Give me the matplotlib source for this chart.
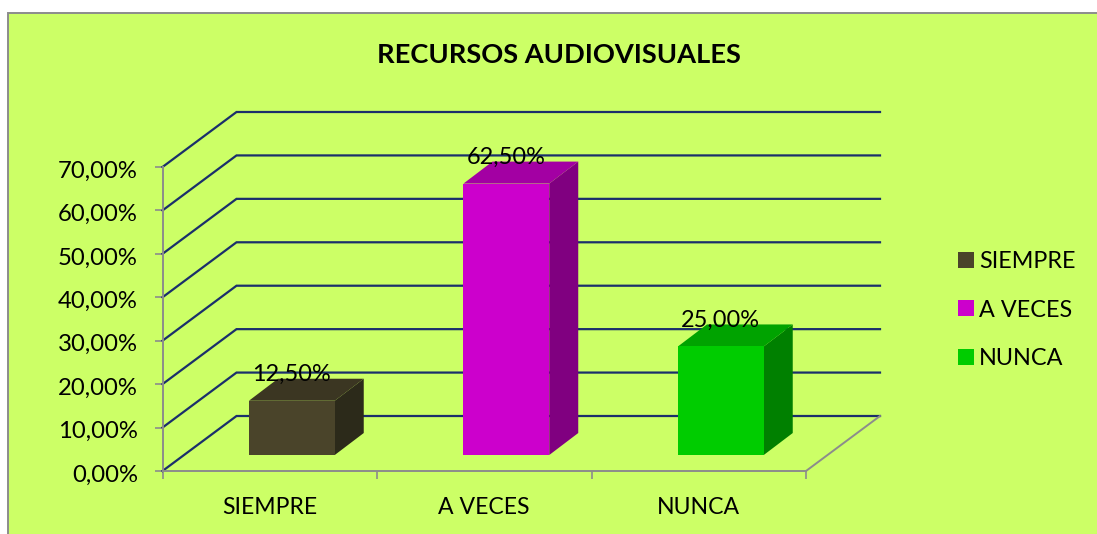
import matplotlib
matplotlib.use("Agg")
import matplotlib.pyplot as plt
from matplotlib.patches import Polygon, Rectangle, Patch
from matplotlib.transforms import ScaledTranslation

plt.rcParams['font.family'] = ['Lato', 'DejaVu Sans']

categories = ['SIEMPRE', 'A VECES', 'NUNCA']
values = [12.5, 62.5, 25.0]
value_labels = ['12,50%', '62,50%', '25,00%']
y_ticks = [0, 10, 20, 30, 40, 50, 60, 70]
y_tick_labels = ['0,00%', '10,00%', '20,00%', '30,00%', '40,00%', '50,00%', '60,00%', '70,00%']
front_colors = ['#4A442A', '#CC00CC', '#00CC00']
top_colors = ['#3B3622', '#A300A3', '#00A300']
side_colors = ['#2C2A1A', '#800080', '#008000']

W, H = 1097, 534
bg = '#CCFF66'
grid_col = '#1A2F6B'
axis_col = '#8C8C8C'

# depth of the fake 3d box, in data units
depth_x = 74 / 214.5
depth_y = 55 * 70 / 304
# bar placement inside the box
bar_w = 0.4
bar_shift = 0.103
bar_base = 3.68
bar_dx = 29 / 214.5
bar_dy = 22 * 70 / 304

fig = plt.figure(figsize=(W / 100, H / 100), dpi=100, facecolor='white')
fig.add_artist(Rectangle((8 / W, -0.1), 1.1, 1.1 - 13 / H, transform=fig.transFigure,
                         facecolor=bg, edgecolor=axis_col, linewidth=1.4, zorder=-1))

ax = fig.add_axes([162.5 / W, 1 - 471 / H, (806 - 162.5) / W, 304 / H])
ax.patch.set_alpha(0)
ax.set_xlim(0, 3)
ax.set_ylim(0, 70)
for s in ['top', 'right']:
    ax.spines[s].set_visible(False)
for s in ['left', 'bottom']:
    ax.spines[s].set_color(axis_col)
    ax.spines[s].set_linewidth(1.4)

ax.set_yticks(y_ticks)
ax.set_yticklabels(y_tick_labels, fontsize=17.2)
ax.tick_params(axis='y', length=6, width=1.2, color=axis_col, pad=11.8)
# tick labels sit a little under their ticks in the original
for lab in ax.get_yticklabels():
    lab.set_transform(lab.get_transform() + ScaledTranslation(0, -2 / 100, fig.dpi_scale_trans))
ax.set_xticks([0, 1, 2, 3])
ax.set_xticklabels([])
ax.tick_params(axis='x', which='major', length=6, width=1.2, color=axis_col)
ax.set_xticks([0.5, 1.5, 2.5], minor=True)
ax.set_xticklabels(categories, minor=True, fontsize=16.6)
ax.tick_params(axis='x', which='minor', length=0, pad=18.5)

# gridlines run along the side wall and then the back wall
for v in y_ticks:
    ax.plot([0, depth_x, 3 + depth_x], [v, v + depth_y, v + depth_y], color=grid_col,
            lw=1.6, clip_on=False, zorder=2, solid_joinstyle='miter')
# floor edge on the right
ax.plot([3, 3 + depth_x], [0, depth_y], color=axis_col, lw=1.4, clip_on=False, zorder=2)

for i, v in enumerate(values):
    x0 = i + 0.5 + bar_shift - bar_w / 2
    x1 = x0 + bar_w
    y0 = bar_base
    y1 = bar_base + v
    ax.add_patch(Polygon([(x1, y0), (x1 + bar_dx, y0 + bar_dy), (x1 + bar_dx, y1 + bar_dy), (x1, y1)],
                         facecolor=side_colors[i], edgecolor='none', clip_on=False, zorder=3))
    ax.add_patch(Polygon([(x0, y1), (x0 + bar_dx, y1 + bar_dy), (x1 + bar_dx, y1 + bar_dy), (x1, y1)],
                         facecolor=top_colors[i], edgecolor='none', clip_on=False, zorder=3))
    ax.add_patch(Rectangle((x0, y0), bar_w, v, facecolor=front_colors[i], edgecolor='none',
                           clip_on=False, zorder=4))
    ax.annotate(value_labels[i], (x0 + bar_w / 2, y1), xytext=(0, 19), textcoords='offset points',
                ha='center', va='center', fontsize=16.9, zorder=5, annotation_clip=False)

handles = [Patch(facecolor=c, edgecolor='none') for c in front_colors]
fig.legend(handles, categories, loc='upper left', bbox_to_anchor=(937 / W, 1 - 230 / H),
           frameon=False, fontsize=16.8, handlelength=0.67, handleheight=0.67,
           handletextpad=0.234, labelspacing=1.18, borderpad=0.4)

fig.text(558.5 / W, 1 - 55 / H, 'RECURSOS AUDIOVISUALES', ha='center', va='center',
         fontsize=19.65, fontweight='bold')

fig.savefig('out.png', dpi=100)
